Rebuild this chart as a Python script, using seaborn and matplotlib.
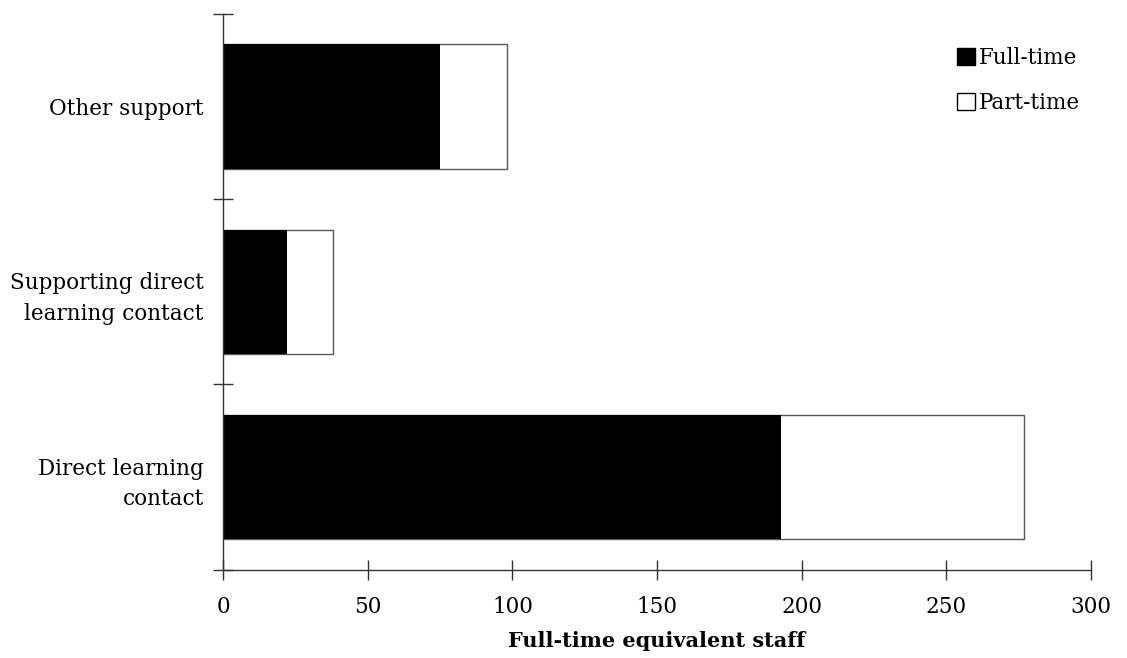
#Importing libraries
import pandas as pd
import matplotlib.pyplot as plt
import seaborn as sns
from matplotlib.patches import Patch

#Chart data
Categories = ["Other support", "Supporting direct\nlearning contact", "Direct learning\ncontact"]
FullTime = [75, 22, 193]
PartTime = [23, 16, 84]

DataFrame = pd.DataFrame({"Category": Categories, "Full-time": FullTime, "Part-time": PartTime})
DataFrame["Total"] = DataFrame["Full-time"] + DataFrame["Part-time"]

sns.set_style("white")
plt.rcParams["font.family"] = ["DejaVu Serif"]
plt.rcParams["text.color"] = "black"
plt.rcParams["axes.labelcolor"] = "black"
plt.rcParams["xtick.color"] = "#333333"
plt.rcParams["ytick.color"] = "#333333"
plt.rcParams["xtick.labelcolor"] = "black"
plt.rcParams["ytick.labelcolor"] = "black"

fig = plt.figure(figsize=(11.27, 6.58), dpi=100)
ax = fig.add_axes([0.198, 0.134, 0.77, 0.845])

#Total bar in white first, then full-time in black over it
sns.barplot(data=DataFrame, x="Total", y="Category", order=Categories, color="white",
            edgecolor="#555555", linewidth=1, width=0.67, ax=ax)
sns.barplot(data=DataFrame, x="Full-time", y="Category", order=Categories, color="black",
            edgecolor="black", linewidth=0, width=0.67, saturation=1, ax=ax)

ax.set_xlim(0, 300)
ax.set_ylim(2.5, -0.5)
ax.set_xticks(range(0, 301, 50))
ax.set_yticks([-0.5, 0.5, 1.5, 2.5])
ax.set_yticklabels([])
ax.set_yticks(range(len(Categories)), minor=True)
ax.set_yticklabels(Categories, minor=True, fontsize=15.5, ha="right", linespacing=1.5)
ax.tick_params(axis="y", which="minor", left=False, length=0, pad=14)
ax.tick_params(axis="y", which="major", left=True, direction="inout", length=14, width=1)
ax.tick_params(axis="x", bottom=True, direction="inout", length=14, width=1, labelsize=15.5, pad=12)

for side in ["top", "right"]:
    ax.spines[side].set_visible(False)
for side in ["left", "bottom"]:
    ax.spines[side].set_color("#333333")
    ax.spines[side].set_linewidth(1)

ax.set_ylabel("")
ax.set_xlabel("Full-time equivalent staff", fontsize=15, fontweight="bold", labelpad=9)

Handles = [Patch(facecolor="black", edgecolor="black", label="Full-time"),
           Patch(facecolor="white", edgecolor="black", label="Part-time")]
ax.legend(handles=Handles, loc="upper right", frameon=False, fontsize=15.5,
          handlelength=0.85, handleheight=0.85, handletextpad=0.2, labelspacing=1.05,
          bbox_to_anchor=(1.01, 0.975))

fig.savefig("out.png", dpi=100)
